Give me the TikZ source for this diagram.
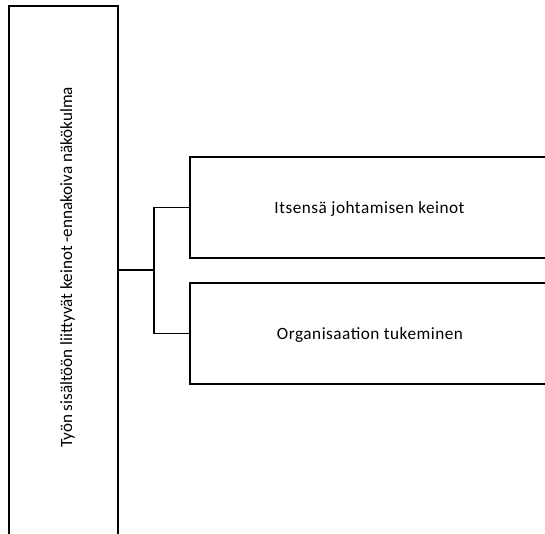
\documentclass[tikz,border=0pt]{standalone}
\usepackage{fontspec}
\setmainfont{Carlito}
\newfontfamily\widecarlito[LetterSpace=3]{Carlito}
\begin{document}
\begin{tikzpicture}[x=1pt,y=-1pt,
  frame/.style={draw=black,line width=1.8pt,rectangle,inner sep=0pt},
  link/.style={draw=black,line width=1.8pt},
  caption/.style={font=\widecarlito\fontsize{17.2}{19}\selectfont,inner sep=0pt,anchor=base},
  sidecaption/.style={font=\fontsize{17.1}{19}\selectfont,inner sep=0pt,rotate=90,anchor=base}]
\useasboundingbox (0,0) rectangle (545,533);
\clip (0,0) rectangle (545,533);
% main category column, running off the bottom edge
\node[frame,minimum width=109pt,minimum height=530pt] (main) at (63.5,271) {};
\node[sidecaption] (maintext) at (72,267.5) {Työn sisältöön liittyvät keinot -ennakoiva näkökulma};
% sub-category boxes, running off the right edge
\node[frame,minimum width=360pt,minimum height=101pt] (self) at (370,207.5) {};
\node[caption] (selftext) at (369.5,213.7) {Itsensä johtamisen keinot};
\node[frame,minimum width=360pt,minimum height=101pt] (org) at (370,333.5) {};
\node[caption] (orgtext) at (370,339.7) {Organisaation tukeminen};
% bracket connector
\coordinate (fork) at (154,270);
\draw[link] (main.east |- fork) -- (fork);
\draw[link] (self.west) -| (fork) |- (org.west);
\end{tikzpicture}
\end{document}
